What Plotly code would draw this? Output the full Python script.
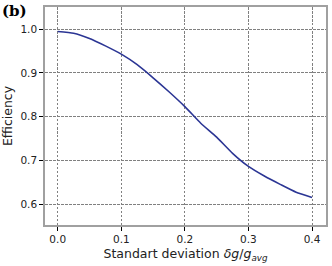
import plotly.graph_objects as go

# Data
sigma = [0.0, 0.025, 0.05, 0.075, 0.1, 0.125, 0.15, 0.175, 0.2, 0.225,
         0.25, 0.275, 0.3, 0.325, 0.35, 0.375, 0.4]
efficiency = [0.995, 0.991, 0.979, 0.962, 0.943, 0.919, 0.889, 0.857, 0.823, 0.785,
              0.753, 0.716, 0.686, 0.664, 0.645, 0.627, 0.615]
x_ticks = [0.0, 0.1, 0.2, 0.3, 0.4]
y_ticks = [0.6, 0.7, 0.8, 0.9, 1.0]

fig = go.Figure()
fig.add_trace(go.Scatter(x=sigma, y=efficiency, mode="lines",
                         line=dict(color="#2b3594", width=1.6, shape="spline", smoothing=0.5),
                         showlegend=False))

axis_common = dict(showline=True, linecolor="#a0a0a0", linewidth=1.5, mirror=True,
                   ticks="outside", ticklen=4, tickcolor="black", tickwidth=1,
                   showgrid=True, gridcolor="#808080", gridwidth=0.8, griddash="2.5px,1.5px",
                   zeroline=False, automargin=False,
                   tickfont=dict(family="DejaVu Sans", size=10.5, color="#222"))

fig.update_xaxes(range=[-0.02, 0.422], tickvals=x_ticks,
                 ticktext=[f"{v:.1f}" for v in x_ticks],
                 title=dict(text="Standart deviation <i>δg</i>/<i>g</i><sub><i>avg</i></sub>",
                            font=dict(family="DejaVu Sans", size=12.5, color="#222"), standoff=5),
                 **axis_common)
fig.update_yaxes(range=[0.552, 1.051], tickvals=y_ticks,
                 ticktext=[f"{v:.1f}" for v in y_ticks],
                 title=dict(text="Efficiency",
                            font=dict(family="DejaVu Sans", size=12.5, color="#222"), standoff=6),
                 **axis_common)

fig.add_annotation(text="<b>(b)</b>", x=-45/281, y=1+7/218, xref="paper", yref="paper",
                   xanchor="left", yanchor="top", showarrow=False,
                   font=dict(family="DejaVu Serif", size=15, color="black"))

fig.update_layout(width=332, height=266, margin=dict(l=45, r=6, t=7, b=41, autoexpand=False),
                  plot_bgcolor="white", paper_bgcolor="white")

fig.write_html("out.html", config={"displayModeBar": False})

# remove default page margin so the figure sits at the window's top-left corner
with open("out.html", encoding="utf-8") as f:
    html = f.read()
html = html.replace("<body>", '<body style="margin:0;padding:0;overflow:hidden">', 1)
with open("out.html", "w", encoding="utf-8") as f:
    f.write(html)
